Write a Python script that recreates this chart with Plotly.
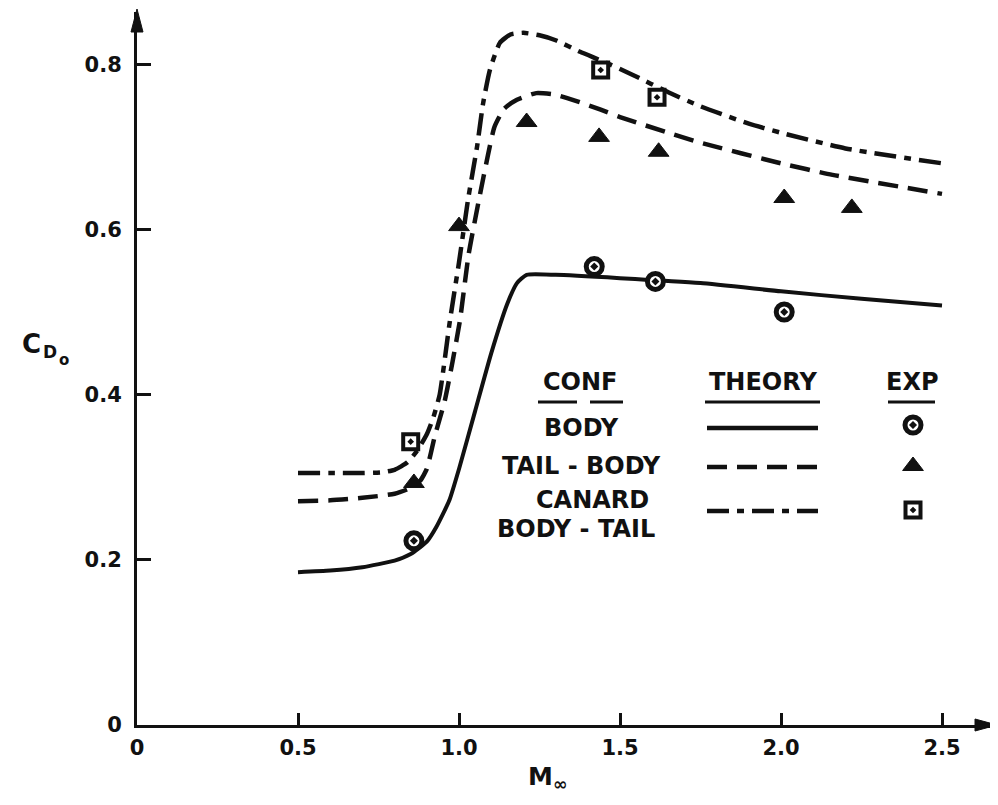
import plotly.graph_objects as go

# ---- data ----
mach_body = [0.5, 0.6, 0.7, 0.8, 0.85, 0.9, 0.93, 0.97, 1.0, 1.05, 1.1, 1.15, 1.18, 1.21, 1.3, 1.5, 1.75, 2.0, 2.25, 2.5]
cd_body = [0.185, 0.187, 0.191, 0.199, 0.207, 0.222, 0.240, 0.272, 0.31, 0.38, 0.45, 0.51, 0.535, 0.545, 0.545, 0.541, 0.535, 0.525, 0.516, 0.508]

mach_tb = [0.5, 0.6, 0.7, 0.8, 0.85, 0.88, 0.9, 0.925, 0.956, 0.98, 1.003, 1.03, 1.062, 1.09, 1.11, 1.14, 1.18, 1.24, 1.3, 1.36, 1.44, 1.5, 1.65, 1.75, 2.0, 2.16, 2.5]
cd_tb = [0.271, 0.272, 0.275, 0.280, 0.287, 0.296, 0.31, 0.35, 0.393, 0.44, 0.49, 0.57, 0.636, 0.69, 0.724, 0.746, 0.757, 0.765, 0.763, 0.756, 0.745, 0.736, 0.717, 0.705, 0.680, 0.666, 0.643]

mach_cn = [0.5, 0.6, 0.7, 0.76, 0.8, 0.84, 0.87, 0.9, 0.92, 0.94, 0.972, 1.0, 1.028, 1.056, 1.075, 1.096, 1.127, 1.16, 1.2, 1.25, 1.3, 1.376, 1.45, 1.54, 1.65, 1.75, 1.9, 2.0, 2.2, 2.5]
cd_cn = [0.305, 0.305, 0.305, 0.306, 0.309, 0.318, 0.332, 0.352, 0.372, 0.40, 0.49, 0.56, 0.636, 0.70, 0.753, 0.793, 0.826, 0.836, 0.838, 0.835, 0.829, 0.815, 0.803, 0.787, 0.766, 0.749, 0.728, 0.717, 0.698, 0.680]

body_exp_m = [0.86, 1.42, 1.61, 2.01]
body_exp_cd = [0.223, 0.555, 0.537, 0.500]
tb_exp_m = [0.86, 1.0, 1.21, 1.435, 1.62, 2.01, 2.22]
tb_exp_cd = [0.293, 0.604, 0.730, 0.712, 0.694, 0.638, 0.626]
cn_exp_m = [0.85, 1.44, 1.615]
cn_exp_cd = [0.343, 0.793, 0.760]

x_ticks = [0, 0.5, 1.0, 1.5, 2.0, 2.5]
x_ticktext = ["0", "0.5", "1.0", "1.5", "2.0", "2.5"]
y_ticks = [0, 0.2, 0.4, 0.6, 0.8]
y_ticktext = ["0", "0.2", "0.4", "0.6", "0.8"]

legend_headers = ["CONF", "THEORY", "EXP"]
legend_conf = ["BODY", "TAIL - BODY", "CANARD", "BODY - TAIL"]

# ---- styles ----
FONT = "DejaVu Sans"
BLACK = "#111111"
DASH_TB = "20px,10px"
DASH_CN = "22px,8px,7px,8px"
CIRCLE = dict(symbol="circle-dot", size=16, color="#ffffff", line=dict(color=BLACK, width=5))
TRIANGLE = dict(symbol="triangle-up", size=18, color=BLACK, line=dict(color=BLACK, width=1))
SQUARE = dict(symbol="square-dot", size=15, color="#ffffff", line=dict(color=BLACK, width=4))

fig = go.Figure()

fig.add_trace(go.Scatter(x=mach_body, y=cd_body, mode="lines",
                         line=dict(color=BLACK, width=4, shape="spline", smoothing=0.5)))
fig.add_trace(go.Scatter(x=mach_tb, y=cd_tb, mode="lines",
                         line=dict(color=BLACK, width=4.5, dash=DASH_TB, shape="spline", smoothing=0.5)))
fig.add_trace(go.Scatter(x=mach_cn, y=cd_cn, mode="lines",
                         line=dict(color=BLACK, width=4.5, dash=DASH_CN, shape="spline", smoothing=0.5)))

fig.add_trace(go.Scatter(x=body_exp_m, y=body_exp_cd, mode="markers", marker=CIRCLE))
fig.add_trace(go.Scatter(x=tb_exp_m, y=tb_exp_cd, mode="markers", marker=TRIANGLE))
fig.add_trace(go.Scatter(x=cn_exp_m, y=cn_exp_cd, mode="markers", marker=SQUARE))

# ---- layout geometry (page has an 8px body margin) ----
OFF = 8
PL, PR, PT, PB = 137, 994, 12, 725     # plot area in page pixels
XSCALE, YSCALE = 322.0, 826.0          # pixels per unit on each axis
W, H = 990, 789
pw, ph = PR - PL, PB - PT
L = PL - OFF
T = PT - OFF
R = W - L - pw
B = H - T - ph


def px(xp):
    return (xp - PL) / pw


def py(yp):
    return (PB - yp) / ph


annotations = []
shapes = []


def label(text, xx, yy, size):
    annotations.append(dict(xref="paper", yref="paper", x=px(xx), y=py(yy),
                            xanchor="center", yanchor="middle", showarrow=False,
                            text=text, font=dict(family=FONT, size=size, color=BLACK, weight=700)))


# axis arrowheads
shapes.append(dict(type="path", xref="paper", yref="paper", fillcolor=BLACK, line=dict(color=BLACK, width=1),
                   path=f"M {px(131)} {py(32)} L {px(137)} {py(9)} L {px(143)} {py(32)} Z"))
shapes.append(dict(type="path", xref="paper", yref="paper", fillcolor=BLACK, line=dict(color=BLACK, width=1),
                   path=f"M {px(975)} {py(719)} L {px(997)} {py(725)} L {px(975)} {py(731)} Z"))

# axis titles
label("M<sub>∞</sub>", 547, 778, 25)
label("C", 31, 344, 26)
label("D", 50, 352, 17)
label("o", 64, 360, 15)

# legend table
LEG = 24
for txt, xx in zip(legend_headers, [580, 763, 912]):
    label(txt, xx, 382, LEG)
for x0, x1 in [(538, 577), (590, 623), (705, 820), (888, 935)]:
    shapes.append(dict(type="line", xref="paper", yref="paper", x0=px(x0), x1=px(x1),
                       y0=py(402), y1=py(402), line=dict(color=BLACK, width=3)))

for txt, xx, yy in zip(legend_conf, [581, 581, 592, 576], [428, 466, 500, 529]):
    label(txt, xx, yy, LEG)

for yy, dash in zip([428, 467, 511], ["solid", DASH_TB, DASH_CN]):
    shapes.append(dict(type="line", xref="paper", yref="paper", x0=px(707), x1=px(818),
                       y0=py(yy), y1=py(yy), line=dict(color=BLACK, width=4.5, dash=dash)))

# legend sample markers (placed in the main axes, converted from the table position)
for mk, yy in zip([CIRCLE, TRIANGLE, SQUARE], [425, 466, 510]):
    fig.add_trace(go.Scatter(x=[(913 - PL) / XSCALE], y=[(PB - yy) / YSCALE], mode="markers",
                             marker=mk))

tick_font = dict(family=FONT, size=21, color=BLACK, weight=700)

fig.update_layout(
    width=W, height=H,
    margin=dict(l=L, r=R, t=T, b=B, autoexpand=False),
    paper_bgcolor="white", plot_bgcolor="white",
    showlegend=False,
    xaxis=dict(range=[0, pw / XSCALE], tickvals=x_ticks, ticktext=x_ticktext,
               showgrid=False, zeroline=False, showline=True, linecolor=BLACK, linewidth=3,
               ticks="inside", ticklen=12, tickwidth=2.5, tickcolor=BLACK,
               tickfont=tick_font, ticklabelstandoff=2),
    yaxis=dict(range=[0, ph / YSCALE], tickvals=y_ticks, ticktext=y_ticktext,
               showgrid=False, zeroline=False, showline=True, linecolor=BLACK, linewidth=3,
               ticks="inside", ticklen=14, tickwidth=2.5, tickcolor=BLACK,
               tickfont=tick_font, ticklabelstandoff=8),
    annotations=annotations,
    shapes=shapes,
)

fig.write_html("out.html")
